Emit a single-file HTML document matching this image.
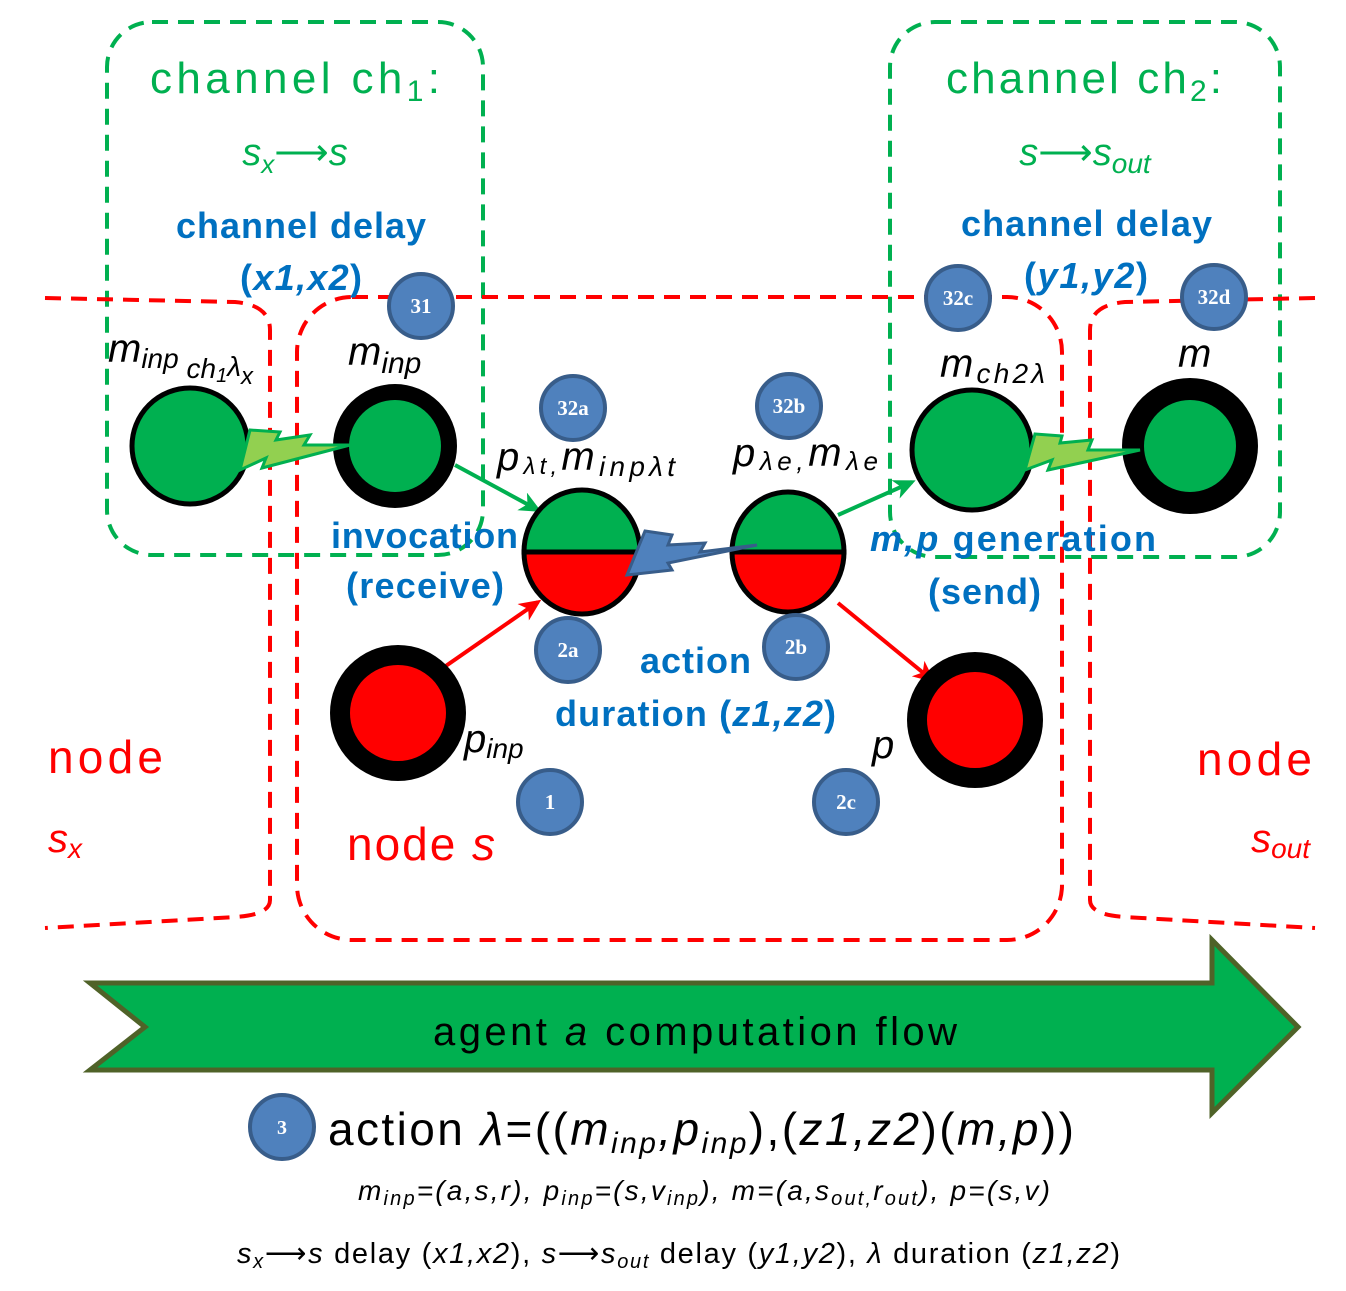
<!DOCTYPE html>
<html><head><style>body{margin:0;background:#fff}svg{display:block}text{font-family:"Liberation Sans",sans-serif}</style></head><body>
<svg width="1346" height="1291" viewBox="0 0 1346 1291" xmlns="http://www.w3.org/2000/svg">
<defs>
<marker id="ag" markerWidth="22" markerHeight="20" refX="18" refY="10" orient="auto" markerUnits="userSpaceOnUse" viewBox="0 0 22 20"><path d="M0,0 L22,10 L0,20 L6,10 Z" fill="#00b050"/></marker>
<marker id="ar" markerWidth="22" markerHeight="20" refX="18" refY="10" orient="auto" markerUnits="userSpaceOnUse" viewBox="0 0 22 20"><path d="M0,0 L22,10 L0,20 L6,10 Z" fill="#ff0000"/></marker>
</defs>
<g fill="none" stroke="#00b050" stroke-width="4" stroke-dasharray="16,10">
<rect x="107" y="22" width="376" height="533" rx="45"/>
<rect x="890" y="22" width="390" height="535" rx="45"/>
</g>
<g fill="none" stroke="#ff0000" stroke-width="4" stroke-dasharray="16,10">
<rect x="297" y="297" width="765" height="643" rx="55"/>
<path d="M45,298 L235,302 Q270,305 270,330 L270,900 Q270,915 235,917 L45,928"/>
<path d="M1315,298 L1125,302 Q1090,305 1090,330 L1090,900 Q1090,915 1125,917 L1315,928"/>
</g>
<text x="150" y="93" font-size="44" fill="#00b050" textLength="290">channel  ch<tspan font-size="30" dy="8">1</tspan><tspan dy="-8">:</tspan></text>
<text x="295" y="165" font-size="38" fill="#00b050" text-anchor="middle" font-style="italic">s<tspan font-size="26" dy="8">x</tspan><tspan dy="-8" font-style="normal">⟶</tspan>s</text>
<text x="946" y="93" font-size="44" fill="#00b050" textLength="276">channel ch<tspan font-size="30" dy="8">2</tspan><tspan dy="-8">:</tspan></text>
<text x="1085" y="165" font-size="38" fill="#00b050" text-anchor="middle" font-style="italic">s<tspan font-style="normal">⟶</tspan>s<tspan font-size="28" dy="8">out</tspan></text>
<g fill="#0070c0" font-weight="bold" font-size="36">
<text x="176" y="238" textLength="250">channel delay</text>
<text x="240" y="290" textLength="122">(<tspan font-style="italic">x1,x2</tspan>)</text>
<text x="961" y="236" textLength="251">channel delay</text>
<text x="1024" y="288" textLength="124">(<tspan font-style="italic">y1,y2</tspan>)</text>
<text x="331" y="548" textLength="187">invocation</text>
<text x="346" y="598" textLength="158">(receive)</text>
<text x="640" y="673" textLength="111">action</text>
<text x="555" y="726" textLength="281">duration (<tspan font-style="italic">z1,z2</tspan>)</text>
<text x="870" y="551" textLength="286"><tspan font-style="italic">m,p</tspan>  generation</text>
<text x="928" y="604" textLength="113">(send)</text>
</g>
<g fill="#ff0000" font-size="46">
<text x="48" y="773" textLength="115">node</text>
<text x="48" y="852" font-style="italic" font-size="40">s<tspan font-size="28" dy="6">x</tspan></text>
<text x="1197" y="775" textLength="115">node</text>
<text x="1310" y="852" font-style="italic" font-size="40" text-anchor="end">s<tspan font-size="28" dy="6">out</tspan></text>
<text x="347" y="860" textLength="148">node <tspan font-style="italic">s</tspan></text>
</g>
<line x1="455" y1="465" x2="538" y2="510" stroke="#00b050" stroke-width="4" marker-end="url(#ag)"/>
<line x1="838" y1="515" x2="912" y2="482" stroke="#00b050" stroke-width="4" marker-end="url(#ag)"/>
<line x1="440" y1="670" x2="538" y2="602" stroke="#ff0000" stroke-width="4" marker-end="url(#ar)"/>
<line x1="838" y1="603" x2="932" y2="680" stroke="#ff0000" stroke-width="4" marker-end="url(#ar)"/>
<circle cx="190" cy="446" r="58" fill="#00b050" stroke="#000" stroke-width="5"/>
<circle cx="395" cy="446" r="62" fill="#000"/><circle cx="395" cy="446" r="46" fill="#00b050"/>
<circle cx="972" cy="450" r="60" fill="#00b050" stroke="#000" stroke-width="5"/>
<circle cx="1190" cy="446" r="68" fill="#000"/><circle cx="1190" cy="446" r="46" fill="#00b050"/>
<circle cx="398" cy="713" r="68" fill="#000"/><circle cx="398" cy="713" r="48" fill="#ff0000"/>
<circle cx="975" cy="720" r="68" fill="#000"/><circle cx="975" cy="720" r="48" fill="#ff0000"/>
<g stroke="#000" stroke-width="5">
<path d="M524,552 A58,62 0 0 1 640,552 Z" fill="#00b050"/><path d="M524,552 A58,62 0 0 0 640,552 Z" fill="#ff0000"/>
<path d="M732,552 A56,60 0 0 1 844,552 Z" fill="#00b050"/><path d="M732,552 A56,60 0 0 0 844,552 Z" fill="#ff0000"/>
</g>
<polygon points="250,430 280,432 276,440 310,435 304,445 350,445 262,468 266,458 240,470" fill="#92d050" stroke="#00b050" stroke-width="3"/>
<polygon points="1035,434 1062,436 1060,443 1092,440 1088,450 1140,450 1048,470 1052,460 1025,470" fill="#92d050" stroke="#00b050" stroke-width="3"/>
<polygon points="645,531 672,535 668,545 705,543 700,552 757,545 668,563 672,570 627,575" fill="#4f81bd" stroke="#385d8a" stroke-width="3"/>
<g font-style="italic" fill="#000" font-size="40">
<text x="108" y="362">m<tspan font-size="28" dy="6">inp </tspan><tspan font-size="28" dy="10">ch</tspan><tspan font-size="20" dy="4">1</tspan><tspan font-size="28" dy="-6">λ</tspan><tspan font-size="24" dy="8">x</tspan></text>
<text x="348" y="365">m<tspan font-size="30" dy="8">inp</tspan></text>
<text x="497" y="470" textLength="178">p<tspan font-size="24" dy="4">λt,</tspan><tspan dy="-4">m</tspan><tspan font-size="28" dy="6">inpλt</tspan></text>
<text x="733" y="466" textLength="145">p<tspan font-size="26" dy="4">λe,</tspan><tspan dy="-4">m</tspan><tspan font-size="26" dy="4">λe</tspan></text>
<text x="940" y="377" textLength="105">m<tspan font-size="28" dy="6">ch2λ</tspan></text>
<text x="1178" y="367">m</text>
<text x="464" y="752">p<tspan font-size="28" dy="6">inp</tspan></text>
<text x="872" y="758">p</text>
</g>
<polygon points="90,983 1212,983 1212,940 1298,1027 1212,1113 1212,1070 90,1070 145,1027" fill="#00b050" stroke="#4f6228" stroke-width="5"/>
<text x="433" y="1045" font-size="40" fill="#000" textLength="524">agent <tspan font-style="italic">a</tspan> computation flow</text>
<g fill="#4f81bd" stroke="#385d8a" stroke-width="4">
<circle cx="421" cy="306" r="32"/><circle cx="573" cy="408" r="32"/><circle cx="789" cy="406" r="32"/>
<circle cx="958" cy="298" r="32"/><circle cx="1214" cy="297" r="32"/><circle cx="568" cy="650" r="32"/>
<circle cx="796" cy="647" r="32"/><circle cx="550" cy="802" r="32"/><circle cx="846" cy="802" r="32"/>
<circle cx="282" cy="1127" r="32"/>
</g>
<g fill="#fff" font-weight="bold" font-size="21" text-anchor="middle">
<text x="421" y="313" style="font-family:'Liberation Serif',serif">31</text>
<text x="573" y="415" style="font-family:'Liberation Serif',serif">32a</text>
<text x="789" y="413" style="font-family:'Liberation Serif',serif">32b</text>
<text x="958" y="305" style="font-family:'Liberation Serif',serif">32c</text>
<text x="1214" y="304" style="font-family:'Liberation Serif',serif">32d</text>
<text x="568" y="657" style="font-family:'Liberation Serif',serif">2a</text>
<text x="796" y="654" style="font-family:'Liberation Serif',serif">2b</text>
<text x="550" y="809" style="font-family:'Liberation Serif',serif">1</text>
<text x="846" y="809" style="font-family:'Liberation Serif',serif">2c</text>
<text x="282" y="1134" font-size="20" style="font-family:'Liberation Serif',serif">3</text>
</g>
<text x="328" y="1145" font-size="46" fill="#000" textLength="746">action <tspan font-style="italic">λ</tspan>=((<tspan font-style="italic">m</tspan><tspan font-style="italic" font-size="30" dy="8">inp</tspan><tspan dy="-8" font-style="italic">,p</tspan><tspan font-style="italic" font-size="30" dy="8">inp</tspan><tspan dy="-8">),(</tspan><tspan font-style="italic">z1,z2</tspan>)(<tspan font-style="italic">m,p</tspan>))</text>
<text x="358" y="1200" font-size="28" fill="#000" font-style="italic" textLength="692">m<tspan font-size="20" dy="5">inp</tspan><tspan dy="-5">=(a,s,r), p</tspan><tspan font-size="20" dy="5">inp</tspan><tspan dy="-5">=(s,v</tspan><tspan font-size="20" dy="5">inp</tspan><tspan dy="-5">), m=(a,s</tspan><tspan font-size="20" dy="5">out,</tspan><tspan dy="-5">r</tspan><tspan font-size="20" dy="5">out</tspan><tspan dy="-5">), p=(s,v)</tspan></text>
<text x="237" y="1263" font-size="29" fill="#000" textLength="883"><tspan font-style="italic">s</tspan><tspan font-style="italic" font-size="20" dy="5">x</tspan><tspan dy="-5">⟶</tspan><tspan font-style="italic">s</tspan> delay (<tspan font-style="italic">x1,x2</tspan>), <tspan font-style="italic">s</tspan>⟶<tspan font-style="italic">s</tspan><tspan font-style="italic" font-size="20" dy="5">out</tspan><tspan dy="-5"> delay (</tspan><tspan font-style="italic">y1,y2</tspan>), <tspan font-style="italic">λ</tspan> duration (<tspan font-style="italic">z1,z2</tspan>)</text>
</svg>
</body></html>
